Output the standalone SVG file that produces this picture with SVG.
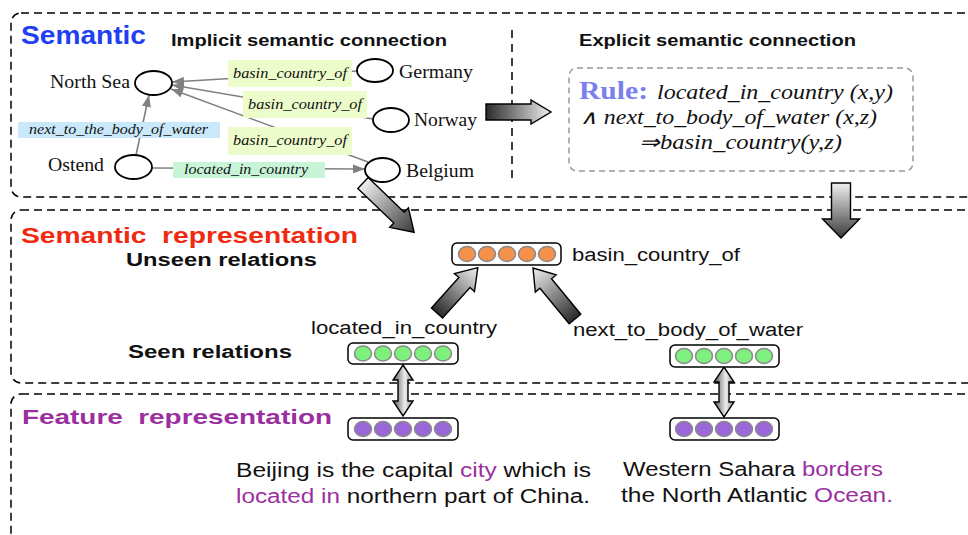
<svg xmlns="http://www.w3.org/2000/svg" width="968" height="535" viewBox="0 0 968 535">
<defs>
<style>
.panel{fill:none;stroke:#000;stroke-width:1.5;stroke-dasharray:8 5}
.div{fill:none;stroke:#000;stroke-width:1.5;stroke-dasharray:8 6}
.node{fill:#fff;stroke:#000;stroke-width:1.8}
.nlab{font-family:"Liberation Serif","Times New Roman",serif;font-size:18px;fill:#111}
.elab{font-family:"Liberation Serif","Times New Roman",serif;font-size:14px;font-style:italic;fill:#111}
.edge{fill:none;stroke:#808080;stroke-width:1.6}
.head{font-family:"Liberation Sans",Arial,sans-serif;font-weight:bold}
.sans{font-family:"Liberation Sans",Arial,sans-serif;font-size:18px;fill:#111}
.sent{font-family:"Liberation Sans",Arial,sans-serif;font-size:20px;fill:#111}
.rule{font-family:"Liberation Serif","Times New Roman",serif;font-size:20px;font-style:italic;fill:#111}
.vec{fill:#fff;stroke:#000;stroke-width:1.5}
.dot{stroke:#8a8a8a;stroke-width:1.5}
.org{fill:#f5914a}
.grn{fill:#7ef07e}
.pur{fill:#9a66d8}
.barrow{stroke:#000;stroke-width:1.4}
.purp{fill:#9b2fa0}
</style>
<marker id="ah" viewBox="0 0 12 9" markerWidth="12" markerHeight="9" refX="12" refY="4.5" orient="auto" markerUnits="userSpaceOnUse">
<path d="M0,0 L12,4.5 L0,9 Z" fill="#808080"/>
</marker>
<linearGradient id="gDL" x1="0" y1="0" x2="1" y2="0">
<stop offset="0" stop-color="#2a2a2a"/><stop offset="1" stop-color="#f0f0f0"/>
</linearGradient>
<linearGradient id="gLD" x1="0" y1="0" x2="1" y2="0">
<stop offset="0" stop-color="#f0f0f0"/><stop offset="1" stop-color="#3a3a3a"/>
</linearGradient>
<linearGradient id="gDbl" x1="0" y1="0" x2="1" y2="0">
<stop offset="0" stop-color="#555"/><stop offset="0.6" stop-color="#eee"/><stop offset="1" stop-color="#888"/>
</linearGradient>
</defs>
<rect width="968" height="535" fill="#fff"/>

<g id="panels">
<rect class="panel" x="11" y="13" width="1000" height="184" rx="10"/>
<rect class="panel" x="11" y="210" width="1000" height="173" rx="10"/>
<rect class="panel" x="11" y="394" width="1000" height="180" rx="10"/>
<line class="div" x1="512" y1="30" x2="512" y2="184"/>
</g>

<g id="titles">
<text class="head" x="21" y="44" font-size="25" fill="#1f3ff5" textLength="125" lengthAdjust="spacingAndGlyphs">Semantic</text>
<text class="head" x="171" y="46" font-size="17" fill="#111" textLength="276" lengthAdjust="spacingAndGlyphs">Implicit semantic connection</text>
<text class="head" x="579" y="46" font-size="17" fill="#111" textLength="277" lengthAdjust="spacingAndGlyphs">Explicit semantic connection</text>
<text class="head" x="21" y="243" font-size="22" fill="#f02a10" textLength="337" lengthAdjust="spacingAndGlyphs">Semantic&#160; representation</text>
<text class="head" x="126" y="266" font-size="18" fill="#111" textLength="191" lengthAdjust="spacingAndGlyphs">Unseen relations</text>
<text class="head" x="128" y="358" font-size="18" fill="#111" textLength="164" lengthAdjust="spacingAndGlyphs">Seen relations</text>
<text class="head" x="22" y="424" font-size="21" fill="#9b2fa0" textLength="310" lengthAdjust="spacingAndGlyphs">Feature&#160; representation</text>
</g>

<g id="connectors">
<line class="edge" x1="357" y1="71" x2="172" y2="82" marker-end="url(#ah)"/>
<line class="edge" x1="373" y1="119" x2="172" y2="85" marker-end="url(#ah)"/>
<line class="edge" x1="368" y1="162" x2="171" y2="89" marker-end="url(#ah)"/>
<line class="edge" x1="136" y1="155" x2="149" y2="95" marker-end="url(#ah)"/>
<line class="edge" x1="152" y1="168" x2="365" y2="169" marker-end="url(#ah)"/>
<g id="edge-labels">
<rect x="228" y="60" width="124" height="27" fill="#edfccb"/>
<text class="elab" x="233" y="78" textLength="114" lengthAdjust="spacingAndGlyphs">basin_country_of</text>
<rect x="243" y="91" width="124" height="27" fill="#edfccb"/>
<text class="elab" x="248" y="109" textLength="114" lengthAdjust="spacingAndGlyphs">basin_country_of</text>
<rect x="228" y="127" width="124" height="28" fill="#edfccb"/>
<text class="elab" x="233" y="145" textLength="114" lengthAdjust="spacingAndGlyphs">basin_country_of</text>
<rect x="18" y="122" width="202" height="16" fill="#c9e9fb"/>
<text class="elab" x="29" y="134" textLength="179" lengthAdjust="spacingAndGlyphs">next_to_the_body_of_water</text>
<rect x="173" y="162" width="152" height="16" fill="#c8f5d8"/>
<text class="elab" x="184" y="174" textLength="124" lengthAdjust="spacingAndGlyphs">located_in_country</text>
</g>
<g id="block-arrows">
<path class="barrow" fill="url(#gDL)" transform="translate(486,112)" d="M0,-8 L45,-8 L45,-12 L65,0 L45,12 L45,8 L0,8 Z"/>
<path class="barrow" fill="url(#gLD)" transform="translate(841,183) rotate(90)" d="M0,-9.5 L36,-9.5 L36,-18.5 L55,0 L36,18.5 L36,9.5 L0,9.5 Z"/>
<path class="barrow" fill="url(#gLD)" transform="translate(363,183) rotate(43.9)" d="M0,-7.5 L50,-7.5 L50,-13.5 L71,0 L50,13.5 L50,7.5 L0,7.5 Z"/>
<path class="barrow" fill="url(#gDL)" transform="translate(437,313) rotate(-48)" d="M0,-7.5 L41,-7.5 L41,-13.5 L61,0 L41,13.5 L41,7.5 L0,7.5 Z"/>
<path class="barrow" fill="url(#gDL)" transform="translate(575,319) rotate(-129.5)" d="M0,-7.5 L46,-7.5 L46,-13.5 L66,0 L46,13.5 L46,7.5 L0,7.5 Z"/>
<path class="barrow" fill="url(#gDbl)" d="M403,365 L413,380 L408,380 L408,401 L413,401 L403,416 L393,401 L398,401 L398,380 L393,380 Z"/>
<path class="barrow" fill="url(#gDbl)" d="M724,367 L734,382 L729,382 L729,402 L734,402 L724,417 L714,402 L719,402 L719,382 L714,382 Z"/>
</g>
</g>

<g id="node-northsea">
<ellipse class="node" cx="153.5" cy="83" rx="18.5" ry="12"/>
<text class="nlab" x="50" y="88" textLength="80" lengthAdjust="spacingAndGlyphs">North Sea</text>
</g>
<g id="node-germany">
<ellipse class="node" cx="375" cy="70.5" rx="18" ry="11.5"/>
<text class="nlab" x="399" y="78" textLength="74" lengthAdjust="spacingAndGlyphs">Germany</text>
</g>
<g id="node-norway">
<ellipse class="node" cx="391" cy="120" rx="18" ry="12"/>
<text class="nlab" x="414" y="126" textLength="63" lengthAdjust="spacingAndGlyphs">Norway</text>
</g>
<g id="node-ostend">
<ellipse class="node" cx="133.5" cy="167" rx="18.5" ry="12"/>
<text class="nlab" x="48" y="171" textLength="56" lengthAdjust="spacingAndGlyphs">Ostend</text>
</g>
<g id="node-belgium">
<ellipse class="node" cx="382.5" cy="170" rx="17.5" ry="12"/>
<text class="nlab" x="406" y="177" textLength="68" lengthAdjust="spacingAndGlyphs">Belgium</text>
</g>

<g id="node-rule">
<rect x="569" y="68" width="344" height="103" rx="8" fill="none" stroke="#999" stroke-width="1.5" stroke-dasharray="6 4"/>
<text x="579" y="99" font-family="'Liberation Serif','Times New Roman',serif" font-size="26" font-weight="bold" fill="#7b7ff0" textLength="69" lengthAdjust="spacingAndGlyphs">Rule:</text>
<text class="rule" x="657" y="99" textLength="236" lengthAdjust="spacingAndGlyphs">located_in_country (x,y)</text>
<text class="rule" x="580" y="124" textLength="297" lengthAdjust="spacingAndGlyphs">∧ next_to_body_of_water (x,z)</text>
<text class="rule" x="639" y="149" textLength="203" lengthAdjust="spacingAndGlyphs">⇒basin_country(y,z)</text>
</g>

<g id="node-basin-vector">
<rect class="vec" x="452" y="243" width="109" height="22" rx="5"/>
<g class="dot org">
<ellipse cx="467" cy="254" rx="8.5" ry="7.5"/><ellipse cx="487" cy="254" rx="8.5" ry="7.5"/><ellipse cx="507" cy="254" rx="8.5" ry="7.5"/><ellipse cx="527" cy="254" rx="8.5" ry="7.5"/><ellipse cx="547" cy="254" rx="8.5" ry="7.5"/>
</g>
<text class="sans" x="572" y="261" textLength="168" lengthAdjust="spacingAndGlyphs">basin_country_of</text>
</g>

<g id="node-located-vector">
<text class="sans" x="311" y="334" textLength="186" lengthAdjust="spacingAndGlyphs">located_in_country</text>
<rect class="vec" x="348" y="343" width="110" height="21" rx="5"/>
<g class="dot grn">
<ellipse cx="363" cy="353.5" rx="8.5" ry="7.5"/><ellipse cx="383" cy="353.5" rx="8.5" ry="7.5"/><ellipse cx="403" cy="353.5" rx="8.5" ry="7.5"/><ellipse cx="423" cy="353.5" rx="8.5" ry="7.5"/><ellipse cx="443" cy="353.5" rx="8.5" ry="7.5"/>
</g>
</g>

<g id="node-next-vector">
<text class="sans" x="573" y="336" textLength="230" lengthAdjust="spacingAndGlyphs">next_to_body_of_water</text>
<rect class="vec" x="670" y="345" width="109" height="22" rx="5"/>
<g class="dot grn">
<ellipse cx="684" cy="356" rx="8.5" ry="7.5"/><ellipse cx="704" cy="356" rx="8.5" ry="7.5"/><ellipse cx="724" cy="356" rx="8.5" ry="7.5"/><ellipse cx="744" cy="356" rx="8.5" ry="7.5"/><ellipse cx="764" cy="356" rx="8.5" ry="7.5"/>
</g>
</g>

<g id="node-feature-left">
<rect class="vec" x="348" y="418" width="110" height="22" rx="5"/>
<g class="dot pur">
<ellipse cx="363" cy="429" rx="8.5" ry="7.5"/><ellipse cx="383" cy="429" rx="8.5" ry="7.5"/><ellipse cx="403" cy="429" rx="8.5" ry="7.5"/><ellipse cx="423" cy="429" rx="8.5" ry="7.5"/><ellipse cx="443" cy="429" rx="8.5" ry="7.5"/>
</g>
<text class="sent" x="236" y="477" textLength="355" lengthAdjust="spacingAndGlyphs">Beijing is the capital <tspan class="purp">city</tspan> which is</text>
<text class="sent" x="236" y="503" textLength="354" lengthAdjust="spacingAndGlyphs"><tspan class="purp">located in</tspan> northern part of China.</text>
</g>

<g id="node-feature-right">
<rect class="vec" x="670" y="418" width="109" height="22" rx="5"/>
<g class="dot pur">
<ellipse cx="684" cy="429" rx="8.5" ry="7.5"/><ellipse cx="704" cy="429" rx="8.5" ry="7.5"/><ellipse cx="724" cy="429" rx="8.5" ry="7.5"/><ellipse cx="744" cy="429" rx="8.5" ry="7.5"/><ellipse cx="764" cy="429" rx="8.5" ry="7.5"/>
</g>
<text class="sent" x="623" y="476" textLength="260" lengthAdjust="spacingAndGlyphs">Western Sahara <tspan class="purp">borders</tspan></text>
<text class="sent" x="621" y="502" textLength="272" lengthAdjust="spacingAndGlyphs">the North Atlantic <tspan class="purp">Ocean.</tspan></text>
</g>
</svg>
